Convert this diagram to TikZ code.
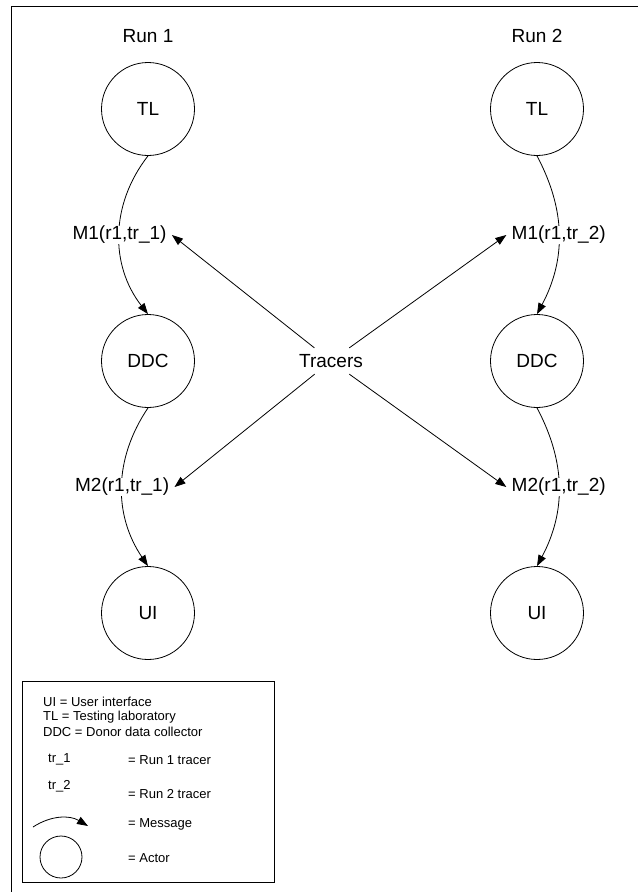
\documentclass[tikz,border=0pt]{standalone}
\usepackage{fontspec}
\setmainfont{Liberation Sans}
\usetikzlibrary{arrows.meta,positioning}
\tikzset{
    >={Triangle[length=11pt,width=8pt]},
    actor/.style={
           circle,
           draw=black, line width=0.8pt,
           minimum size=93pt,
           inner sep=0pt,
           text centered},
    pil/.style={
           ->,
           line width=0.8pt},
    msg/.style={
           fill=white,
           inner xsep=5pt, inner ysep=0pt},
    forklaring/.style={
           anchor=west,
           inner sep=0pt,
           font=\fontsize{13}{15}\selectfont}
}
\begin{document}
\begin{tikzpicture}[x=1pt,y=1pt]
          \def \xa {148}
          \def \xb {537}
          \fontsize{19}{22}\selectfont
          \useasboundingbox (0,0) rectangle (638,-892);
          \draw[line width=0.8pt] (11,-892) -- (11,-6) -- (638,-6);
          % run 1
          \node(run1) at (\xa,-36) {Run 1};
          \node[actor](tl1) at (\xa,-109) {TL};
          \node[actor](ddc1) at (\xa,-361) {DDC};
          \node[actor](ui1) at (\xa,-613) {UI};
          % run 2
          \node(run2) at (\xb,-36) {Run 2};
          \node[actor](tl2) at (\xb,-109) {TL};
          \node[actor](ddc2) at (\xb,-361) {DDC};
          \node[actor](ui2) at (\xb,-613) {UI};
          \node(tracers) at (331,-361) {Tracers};
          \draw[pil] (tl1.south) to[bend right=38] node[msg](m1a){M1(r1,tr\_1)} (ddc1.north);
          \draw[pil] (ddc1.south) to[bend right=34] node[msg](m2a){M2(r1,tr\_1)} (ui1.north);
          \draw[pil] (tl2.south) to[bend left=28] node[msg](m1b){M1(r1,tr\_2)} (ddc2.north);
          \draw[pil] (ddc2.south) to[bend left=28] node[msg](m2b){M2(r1,tr\_2)} (ui2.north);
          \draw[pil] (tracers) -- (m1a.east);
          \draw[pil] (tracers) -- (m2a.east);
          \draw[pil] (tracers) -- (m1b.west);
          \draw[pil] (tracers) -- (m2b.west);
          % legend
          \node[draw, line width=0.8pt, minimum width=252pt, minimum height=201pt, anchor=north west](legende) at (22,-681) {};
          \node[forklaring](lui) at (43,-702) {UI = User interface};
          \node[forklaring](ltl) at (43,-717) {TL = Testing laboratory};
          \node[forklaring](lddc) at (43,-732) {DDC = Donor data collector};
          \node[forklaring](ltr1) at (48,-759) {tr\_1};
          \node[forklaring](lrun1) at (128,-760) {= Run 1 tracer};
          \node[forklaring](ltr2) at (48,-786) {tr\_2};
          \node[forklaring](lrun2) at (128,-794) {= Run 2 tracer};
          \coordinate (msgstart) at (33,-827);
          \coordinate (msgend) at (88,-826);
          \draw[pil] (msgstart) to[bend left=32] (msgend);
          \node[forklaring](lmsg) at (128,-824) {= Message};
          \node[actor, minimum size=42pt](lactor) at (61,-857) {};
          \node[forklaring](lact) at (128,-858) {= Actor};
\end{tikzpicture}
\end{document}
